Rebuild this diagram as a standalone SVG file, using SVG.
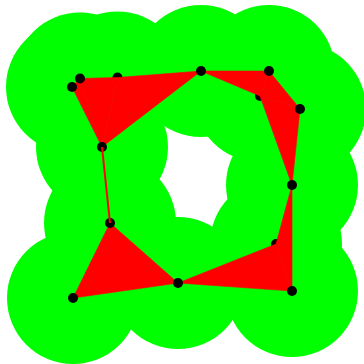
<svg xmlns="http://www.w3.org/2000/svg" width="364" height="364" viewBox="0 0 364 364">
<style>
.ball{fill:#00ff00}
.tri{fill:#ff0000;stroke:#ff0000;stroke-width:0.6;stroke-linejoin:round}
.edge{stroke:#ff0000;stroke-width:2;fill:none}
.dot{fill:#000000}
</style>
<rect width="364" height="364" fill="#ffffff"/>
<g id="balls">
<circle class="ball" cx="72" cy="87" r="66"/>
<circle class="ball" cx="80" cy="78.5" r="66"/>
<circle class="ball" cx="117.5" cy="77.5" r="66"/>
<circle class="ball" cx="201" cy="71" r="66"/>
<circle class="ball" cx="269" cy="71" r="66"/>
<circle class="ball" cx="260" cy="96" r="66"/>
<circle class="ball" cx="300" cy="109" r="66"/>
<circle class="ball" cx="292" cy="185" r="66"/>
<circle class="ball" cx="102" cy="147" r="66"/>
<circle class="ball" cx="110" cy="223" r="66"/>
<circle class="ball" cx="73" cy="298" r="66"/>
<circle class="ball" cx="178" cy="283" r="66"/>
<circle class="ball" cx="276" cy="244" r="66"/>
<circle class="ball" cx="292" cy="291" r="66"/>
</g>
<g id="p3"><circle class="dot" cx="117.5" cy="77.5" r="5"/></g>
<g id="p6"><circle class="dot" cx="260" cy="96" r="5"/></g>
<g id="p13"><circle class="dot" cx="276" cy="244" r="5"/></g>
<g id="triangles">
<polygon class="tri" points="72,87 80,78.5 102,147"/>
<polygon class="tri" points="80,78.5 117.5,77.5 102,147"/>
<polygon class="tri" points="117.5,77.5 201,71 102,147"/>
<polygon class="tri" points="201,71 269,71 260,96"/>
<polygon class="tri" points="269,71 300,109 260,96"/>
<polygon class="tri" points="260,96 300,109 292,185"/>
<polygon class="tri" points="110,223 73,298 178,283"/>
<polygon class="tri" points="178,283 276,244 292,291"/>
<polygon class="tri" points="276,244 292,185 292,291"/>
</g>
<g id="p1"><circle class="dot" cx="72" cy="87" r="5"/></g>
<g id="p2"><circle class="dot" cx="80" cy="78.5" r="5"/></g>
<g id="p4"><circle class="dot" cx="201" cy="71" r="5"/></g>
<g id="p5"><circle class="dot" cx="269" cy="71" r="5"/></g>
<g id="p7"><circle class="dot" cx="300" cy="109" r="5"/></g>
<g id="p8"><circle class="dot" cx="292" cy="185" r="5"/></g>
<g id="p9"><circle class="dot" cx="102" cy="147" r="5"/></g>
<g id="p10"><circle class="dot" cx="110" cy="223" r="5"/></g>
<g id="p11"><circle class="dot" cx="73" cy="298" r="5"/></g>
<g id="p12"><circle class="dot" cx="178" cy="283" r="5"/></g>
<g id="p14"><circle class="dot" cx="292" cy="291" r="5"/></g>
<g id="edges">
<line class="edge" x1="102" y1="147" x2="110" y2="223"/>
</g>
</svg>
